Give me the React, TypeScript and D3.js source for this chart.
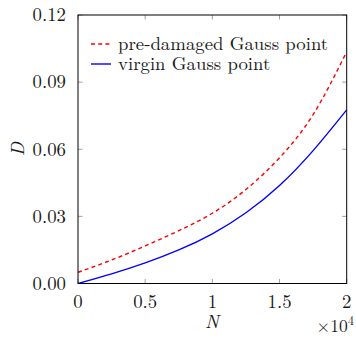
import React from "react";
import * as d3 from "d3";

const nValues = [0, 0.25, 0.5, 0.75, 1, 1.25, 1.5, 1.75, 2];
const preDamaged = [0.005, 0.0105, 0.0168, 0.0236, 0.0314, 0.042, 0.0562, 0.0755, 0.1036];
const virgin = [0, 0.0043, 0.0092, 0.015, 0.0222, 0.0316, 0.0438, 0.0594, 0.0776];
const xTicks = [0, 0.5, 1, 1.5, 2];
const xTickLabels = ["0", "0.5", "1", "1.5", "2"];
const yTicks = [0, 0.03, 0.06, 0.09, 0.12];
const yTickLabels = ["0.00", "0.03", "0.06", "0.09", "0.12"];
const legendLabels = ["pre-damaged Gauss point", "virgin Gauss point"];

const W = 356, H = 338;
const L = 78, R = 346.7, T = 15, B = 283.5;
const FONT = '"Latin Modern Roman"';

export default function App() {
  const x = d3.scaleLinear().domain([0, 2]).range([L, R]);
  const y = d3.scaleLinear().domain([0, 0.12]).range([B, T]);
  const line = d3
    .line<number>()
    .x((_, i) => x(nValues[i]))
    .y((d) => y(d))
    .curve(d3.curveNatural);
  const tickLen = 4.5;
  const fs = 18.8;
  const col = "#1a1a1a";
  const ts: React.CSSProperties = { fontFamily: FONT };
  return (
    <svg width={W} height={H} style={{ position: "absolute", left: 0, top: 0, display: "block" }}>
      <rect x={0} y={0} width={W} height={H} fill="#fff" />
      <defs>
        <clipPath id="plot">
          <rect x={L} y={T} width={R - L} height={B - T} />
        </clipPath>
      </defs>
      {xTicks.map((t, i) => (
        <g key={"xt" + i} stroke="#888" strokeWidth={0.8}>
          <line x1={x(t)} x2={x(t)} y1={B} y2={B - tickLen} />
          <line x1={x(t)} x2={x(t)} y1={T} y2={T + tickLen} />
        </g>
      ))}
      {yTicks.map((t, i) => (
        <g key={"yt" + i} stroke="#888" strokeWidth={0.8}>
          <line x1={L} x2={L + tickLen} y1={y(t)} y2={y(t)} />
          <line x1={R} x2={R - tickLen} y1={y(t)} y2={y(t)} />
        </g>
      ))}
      <g clipPath="url(#plot)">
        <path d={line(preDamaged) || ""} fill="none" stroke="#ff0000" strokeWidth={1.4} strokeDasharray="4 3.2" />
        <path d={line(virgin) || ""} fill="none" stroke="#0000ff" strokeWidth={1.4} />
      </g>
      <rect x={L} y={T} width={R - L} height={B - T} fill="none" stroke="#000" strokeWidth={1} />
      {xTicks.map((t, i) => (
        <text key={"xl" + i} x={x(t)} y={308} textAnchor="middle" fontSize={fs} fill={col} style={ts}>
          {xTickLabels[i]}
        </text>
      ))}
      {yTicks.map((t, i) => (
        <text key={"yl" + i} x={66} y={y(t) + 6.3} textAnchor="end" fontSize={fs} fill={col} style={ts}>
          {yTickLabels[i]}
        </text>
      ))}
      <text x={212} y={328} textAnchor="middle" fontSize={fs} fontStyle="italic" fill={col} style={ts}>N</text>
      <text
        transform={`translate(24,${(T + B) / 2}) rotate(-90)`}
        textAnchor="middle"
        fontSize={fs}
        fontStyle="italic"
        fill={col}
        style={ts}
      >
        D
      </text>
      <text x={354} y={332} textAnchor="end" fontSize={17.5} fill={col} style={ts}>
        ×10<tspan fontSize={12.5} dy={-7}>4</tspan>
      </text>
      <line x1={91} x2={111} y1={44} y2={44} stroke="#ff0000" strokeWidth={1.4} strokeDasharray="4 3.2" />
      <line x1={91} x2={111} y1={64} y2={64} stroke="#0000ff" strokeWidth={1.4} />
      <text x={118} y={50} fontSize={fs} fill={col} style={ts}>{legendLabels[0]}</text>
      <text x={118} y={70} fontSize={fs} fill={col} style={ts}>{legendLabels[1]}</text>
    </svg>
  );
}
